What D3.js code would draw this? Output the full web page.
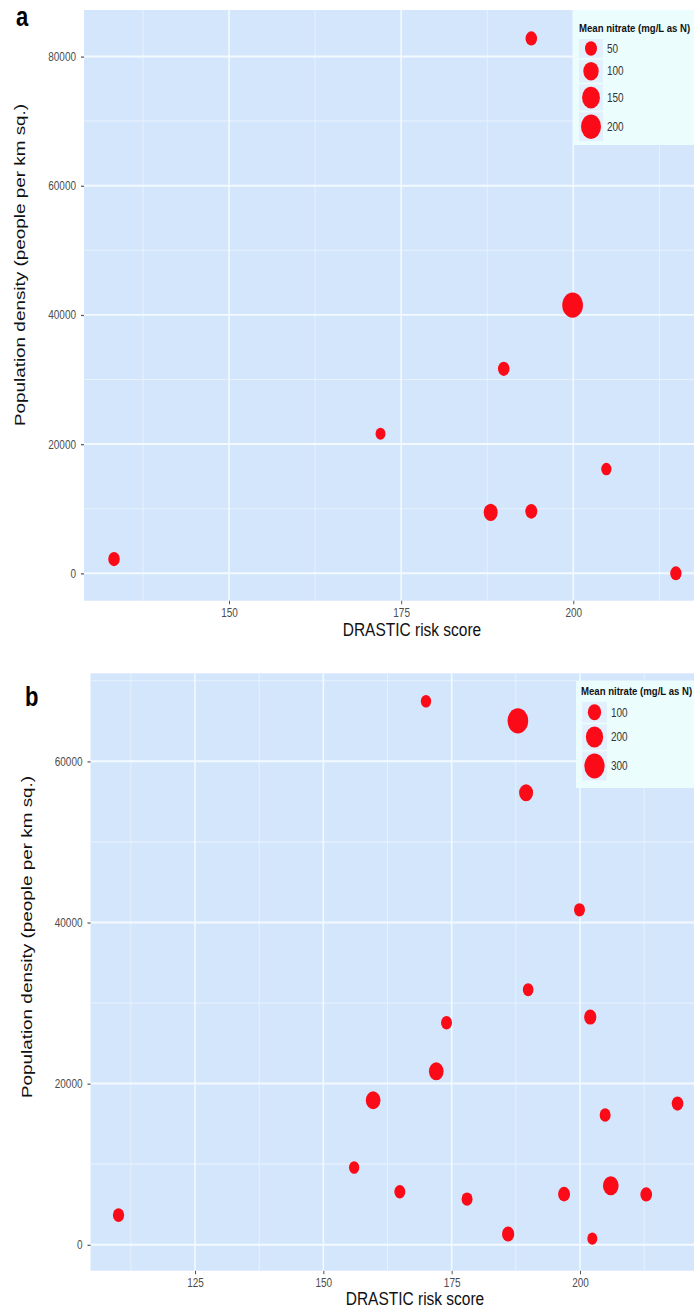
<!DOCTYPE html>
<html>
<head>
<meta charset="utf-8">
<script src="https://cdn.jsdelivr.net/npm/d3@7"></script>
<style>
  body { margin: 0; background: #fff; }
  text { font-family: "Liberation Sans", Arial, sans-serif; }
</style>
</head>
<body>
<div id="chart"></div>
<script>
// panel a
const scoreA   = [133.3, 172.0, 189.9, 188.0, 193.9, 193.9, 199.9, 204.8, 214.9];
const densityA = [2200, 21600, 31650, 9430, 9590, 82800, 41500, 16130, 0];
const nitrateA = [45, 28, 46, 78, 50, 45, 218, 31, 42];
const legendA  = [50, 100, 150, 200];
const xTicksA  = [150, 175, 200];
const yTicksA  = [0, 20000, 40000, 60000, 80000];

// panel b
const scoreB   = [110.1, 156.0, 159.7, 164.9, 170.0, 172.0, 174.0, 178.0, 186.0, 187.9,
                  189.5, 189.9, 196.9, 199.9, 202.0, 202.4, 204.9, 206.0, 212.9, 219.0];
const densityB = [3680, 9590, 17930, 6570, 67460, 21520, 27560, 5660, 1330, 65020,
                  56100, 31650, 6280, 41560, 28250, 750, 16110, 7310, 6240, 17520];
const nitrateB = [62, 47, 131, 58, 47, 131, 58, 58, 80, 315,
                  115, 53, 75, 58, 80, 43, 58, 156, 69, 69];
const legendB  = [100, 200, 300];
const xTicksB  = [125, 150, 175, 200];
const yTicksB  = [0, 20000, 40000, 60000];

const W = 694, H = 1311;
const K = 1.22;            // the figure is stretched vertically
const ny = v => v / K;

const svg = d3.select("#chart").append("svg").attr("width", W).attr("height", H);
const root = svg.append("g").attr("transform", `scale(1,${K})`);

function minors(ticks, dom) {
  const step = ticks[1] - ticks[0];
  const out = [];
  for (let v = ticks[0] - step / 2; v < dom[1]; v += step) {
    if (v > dom[0]) out.push(v);
  }
  return out;
}

function drawPanel(p, score, density, nitrate, legendVals, xTicks, yTicks) {
  const g = root.append("g");
  const x = d3.scaleLinear().domain(p.xDomain).range([p.left, p.right]);
  const y = d3.scaleLinear().domain(p.yDomain).range([ny(p.bottom), ny(p.top)]);
  const r = d3.scaleSqrt().domain(p.sizeDomain).range(p.sizeRange);

  g.append("rect")
    .attr("x", p.left).attr("y", ny(p.top))
    .attr("width", p.right - p.left).attr("height", ny(p.bottom - p.top))
    .attr("fill", "#d4e6fc");

  // grid
  g.selectAll(".vminor").data(minors(xTicks, p.xDomain)).join("line")
    .attr("x1", d => x(d)).attr("x2", d => x(d))
    .attr("y1", ny(p.top)).attr("y2", ny(p.bottom))
    .attr("stroke", "#e7f2fe").attr("stroke-width", 0.9);
  g.selectAll(".hminor").data(minors(yTicks, p.yDomain)).join("line")
    .attr("x1", p.left).attr("x2", p.right)
    .attr("y1", d => y(d)).attr("y2", d => y(d))
    .attr("stroke", "#e7f2fe").attr("stroke-width", 0.9);
  g.selectAll(".vmajor").data(xTicks).join("line")
    .attr("x1", d => x(d)).attr("x2", d => x(d))
    .attr("y1", ny(p.top)).attr("y2", ny(p.bottom))
    .attr("stroke", "#f3faff").attr("stroke-width", 1.6);
  g.selectAll(".hmajor").data(yTicks).join("line")
    .attr("x1", p.left).attr("x2", p.right)
    .attr("y1", d => y(d)).attr("y2", d => y(d))
    .attr("stroke", "#f3faff").attr("stroke-width", 1.6);

  // axes
  const ax = g.append("g")
    .attr("transform", `translate(${p.left},0)`)
    .call(d3.axisLeft(y).tickValues(yTicks).tickSize(3).tickPadding(5).tickFormat(d3.format("d")));
  const bx = g.append("g")
    .attr("transform", `translate(0,${ny(p.bottom)})`)
    .call(d3.axisBottom(x).tickValues(xTicks).tickSize(2.9).tickPadding(3.4).tickFormat(d3.format("d")));
  [ax, bx].forEach(a => {
    a.select(".domain").remove();
    a.selectAll("line").attr("stroke", "#555");
    a.selectAll("text").attr("fill", "#4d4d4d").style("font-size", "10px");
  });

  // points
  const pts = score.map((s, i) => ({ s, d: density[i], n: nitrate[i] }));
  g.selectAll(".pt").data(pts).join("circle")
    .attr("cx", d => x(d.s)).attr("cy", d => y(d.d)).attr("r", d => r(d.n))
    .attr("fill", "#fb0b17");

  // titles
  g.append("text")
    .attr("x", p.xTitle[0]).attr("y", ny(p.xTitle[1]))
    .attr("text-anchor", "middle").style("font-size", "15.5px").attr("fill", "#111")
    .text("DRASTIC risk score");
  g.append("text")
    .attr("transform", `translate(${p.yTitle[0]},${ny(p.yTitle[1])}) rotate(-90)`)
    .attr("text-anchor", "middle").attr("dy", "0.35em")
    .style("font-size", "15.5px").attr("fill", "#111")
    .text("Population density (people per km sq.)");
  g.append("text")
    .attr("x", p.tag[0]).attr("y", ny(p.tag[1]))
    .style("font-size", "22px").style("font-weight", "bold").attr("fill", "#000")
    .text(p.label);

  // legend
  const lg = g.append("g");
  lg.append("rect")
    .attr("x", p.legX).attr("y", ny(p.legTop))
    .attr("width", W + 10 - p.legX).attr("height", ny(p.legBottom - p.legTop))
    .attr("fill", "#ecfdfe");
  lg.append("text")
    .attr("x", p.legTitleX).attr("y", ny(p.legTitleBase))
    .style("font-size", "9.6px").style("font-weight", "bold").attr("fill", "#111")
    .text("Mean nitrate (mg/L as N)");
  let yy = ny(p.keyTop);
  legendVals.forEach(v => {
    const h = 2 * r(v) + 3.5;
    lg.append("rect")
      .attr("x", p.keyX).attr("y", yy).attr("width", p.keyW).attr("height", h)
      .attr("fill", "#e2effc");
    lg.append("circle")
      .attr("cx", p.keyX + p.keyW / 2).attr("cy", yy + h / 2).attr("r", r(v))
      .attr("fill", "#fb0b17");
    lg.append("text")
      .attr("x", p.labelX).attr("y", yy + h / 2).attr("dy", "0.35em")
      .style("font-size", "10px").attr("fill", "#333")
      .text(v);
    yy += h + 1.5;
  });
}

drawPanel({
  label: "a", tag: [16, 26],
  left: 84, right: W, top: 10, bottom: 600.7,
  xDomain: [128.94, 217.53], yDomain: [-4244, 87193],
  sizeDomain: [50, 200], sizeRange: [6, 10],
  xTitle: [412, 636.5], yTitle: [20, 265],
  legX: 573, legTop: 10, legBottom: 145, legTitleX: 579, legTitleBase: 32,
  keyX: 579, keyW: 24, keyTop: 39, labelX: 607
}, scoreA, densityA, nitrateA, legendA, xTicksA, yTicksA);

drawPanel({
  label: "b", tag: [25, 706],
  left: 90.5, right: W, top: 673.3, bottom: 1270.7,
  xDomain: [104.64, 222.21], yDomain: [-3227, 70922],
  sizeDomain: [100, 300], sizeRange: [6.65, 10.15],
  xTitle: [415, 1305.5], yTitle: [27, 937],
  legX: 576, legTop: 681, legBottom: 788, legTitleX: 581, legTitleBase: 695,
  keyX: 582, keyW: 25, keyTop: 702, labelX: 611
}, scoreB, densityB, nitrateB, legendB, xTicksB, yTicksB);
</script>
</body>
</html>
